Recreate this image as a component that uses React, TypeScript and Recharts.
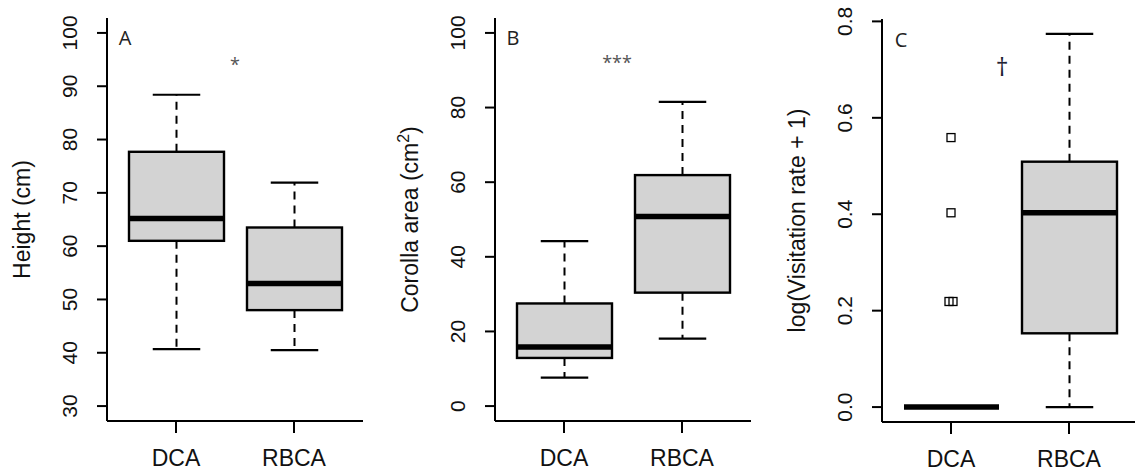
import React from 'react';
import { ComposedChart, Bar, Scatter, XAxis, YAxis } from 'recharts';

const categories = ['DCA', 'RBCA'];

// Panel A: Height (cm)
const heightLow = [40.7, 40.5];
const heightQ1 = [61.0, 48.0];
const heightMedian = [65.2, 53.0];
const heightQ3 = [77.7, 63.5];
const heightHigh = [88.4, 71.9];
const heightTicks = [30, 40, 50, 60, 70, 80, 90, 100];
const heightLimits = [30, 100];

// Panel B: Corolla area (cm2)
const corollaLow = [7.6, 18.1];
const corollaQ1 = [12.9, 30.4];
const corollaMedian = [15.8, 50.8];
const corollaQ3 = [27.5, 61.9];
const corollaHigh = [44.2, 81.5];
const corollaTicks = [0, 20, 40, 60, 80, 100];
const corollaLimits = [0, 100];

// Panel C: log(Visitation rate + 1)
const visitLow = [0, 0];
const visitQ1 = [0, 0.153];
const visitMedian = [0, 0.403];
const visitQ3 = [0, 0.509];
const visitHigh = [0, 0.774];
const visitOutliersDCA = [0.559, 0.403, 0.219, 0.219];
const visitTicks = [0, 0.2, 0.4, 0.6, 0.8];
const visitLimits = [0, 0.774];

const FONT = '"Liberation Sans", Arial, sans-serif';

const pad = (lim: number[]) => {
  const d = (lim[1] - lim[0]) * 0.04;
  return [lim[0] - d, lim[1] + d];
};

const buildRows = (lo: number[], q1: number[], med: number[], q3: number[], hi: number[]) =>
  categories.map((c, i) => ({ group: c, lo: lo[i], q1: q1[i], med: med[i], q3: q3[i], hi: hi[i] }));

const buildOutliers = (group: string, vals: number[]) =>
  vals.map((v, i) => {
    const n = vals.filter((w) => w === v).length;
    const k = vals.slice(0, i).filter((w) => w === v).length;
    return { group, v, k, n };
  });

const BoxShape = (props: any) => {
  const { x, y, width, height, payload } = props;
  if (payload == null || x == null) return null;
  const span = payload.hi - payload.lo;
  const yOf = (v: number) => (span === 0 ? y : y + (height * (payload.hi - v)) / span);
  const cx = x + width / 2;
  const capHalf = width / 4;
  const yHi = yOf(payload.hi);
  const yQ3 = yOf(payload.q3);
  const yMed = yOf(payload.med);
  const yQ1 = yOf(payload.q1);
  const yLo = yOf(payload.lo);
  return (
    <g>
      <line x1={cx} x2={cx} y1={yQ3} y2={yHi} stroke="#000" strokeWidth={2} strokeDasharray="8 6" />
      <line x1={cx} x2={cx} y1={yQ1} y2={yLo} stroke="#000" strokeWidth={2} strokeDasharray="8 6" />
      <line x1={cx - capHalf} x2={cx + capHalf} y1={yHi} y2={yHi} stroke="#000" strokeWidth={2.2} />
      <line x1={cx - capHalf} x2={cx + capHalf} y1={yLo} y2={yLo} stroke="#000" strokeWidth={2.2} />
      <rect x={x} y={yQ3} width={width} height={Math.max(0, yQ1 - yQ3)} fill="#d3d3d3" stroke="#000" strokeWidth={2.4} />
      <line x1={x} x2={x + width} y1={yMed} y2={yMed} stroke="#000" strokeWidth={5.5} />
    </g>
  );
};

const OutlierShape = (props: any) => {
  const { cx, cy, payload } = props;
  if (cx == null || cy == null) return null;
  const dx = (payload.k - (payload.n - 1) / 2) * 4;
  return <rect x={cx + dx - 4} y={cy - 4} width={8} height={8} fill="none" stroke="#000" strokeWidth={1.3} />;
};

const XTick = (props: any) => {
  const { x, y, payload } = props;
  return (
    <text x={x} y={y} dy={32.5} textAnchor="middle" fontSize={23} fontFamily={FONT} fill="#111">
      {payload.value}
    </text>
  );
};

const makeYTick = (fmt: (v: number) => string) => (props: any) => {
  const { x, y, payload } = props;
  const bx = x - 20;
  return (
    <text
      x={bx}
      y={y}
      transform={`rotate(-90 ${bx} ${y})`}
      textAnchor="middle"
      fontSize={21}
      fontFamily={FONT}
      fill="#111"
    >
      {fmt(payload.value)}
    </text>
  );
};

const W = 380;
const H = 472;

function Panel(props: {
  left: number;
  top: number;
  rows: any[];
  outliers?: any[];
  domain: number[];
  ticks: number[];
  fmt: (v: number) => string;
}) {
  const { left, top, rows, outliers, domain, ticks, fmt } = props;
  const YTick = makeYTick(fmt);
  const lineStyle = { stroke: '#000', strokeWidth: 2 };
  return (
    <div style={{ position: 'absolute', left, top: 0, width: W, height: H }}>
      <ComposedChart
        width={W}
        height={H}
        data={rows}
        margin={{ top, right: 17, bottom: 472 - 40 - (top === 18 ? 421 : 422), left: 0 }}
        barCategoryGap={0}
      >
        <XAxis
          dataKey="group"
          type="category"
          allowDuplicatedCategory={false}
          padding={{ left: 10, right: 10 }}
          height={40}
          tickSize={12}
          tickMargin={0}
          interval={0}
          axisLine={lineStyle}
          tickLine={lineStyle}
          tick={<XTick />}
        />
        <XAxis
          xAxisId="top"
          dataKey="group"
          type="category"
          allowDuplicatedCategory={false}
          orientation="top"
          height={0}
          tick={false}
          tickLine={false}
          axisLine={lineStyle}
        />
        <YAxis
          type="number"
          domain={domain}
          ticks={ticks}
          allowDataOverflow
          width={107}
          tickSize={10}
          tickMargin={0}
          interval={0}
          axisLine={lineStyle}
          tickLine={lineStyle}
          tick={<YTick />}
        />
        <YAxis
          yAxisId="right"
          orientation="right"
          type="number"
          domain={domain}
          allowDataOverflow
          width={0}
          tick={false}
          tickLine={false}
          axisLine={lineStyle}
        />
        <Bar
          dataKey={(r: any) => [r.lo, r.hi]}
          barSize={95}
          shape={<BoxShape />}
          isAnimationActive={false}
        />
        {outliers ? (
          <Scatter data={outliers} dataKey="v" shape={<OutlierShape />} isAnimationActive={false} />
        ) : null}
      </ComposedChart>
    </div>
  );
}

const heightRows = buildRows(heightLow, heightQ1, heightMedian, heightQ3, heightHigh);
const corollaRows = buildRows(corollaLow, corollaQ1, corollaMedian, corollaQ3, corollaHigh);
const visitRows = buildRows(visitLow, visitQ1, visitMedian, visitQ3, visitHigh);
const visitOutliers = buildOutliers('DCA', visitOutliersDCA);

export default function App() {
  const titleStyle = { fontSize: 23, fontFamily: FONT, fill: '#111' } as any;
  const letterStyle = { fontSize: 20, fontFamily: '"Open Sans", "Noto Sans", sans-serif', fill: '#222' } as any;
  const sigStyle = { fontSize: 18, fontFamily: '"Open Sans", "Noto Sans", sans-serif', fill: '#555' } as any;
  return (
    <div
      style={{
        position: 'absolute',
        left: 0,
        top: 0,
        width: 1135,
        height: 472,
        overflow: 'hidden',
        background: '#fff',
      }}
    >
      <Panel left={0} top={18} rows={heightRows} domain={pad(heightLimits)} ticks={heightTicks} fmt={(v) => String(v)} />
      <Panel left={388} top={18} rows={corollaRows} domain={pad(corollaLimits)} ticks={corollaTicks} fmt={(v) => String(v)} />
      <Panel
        left={775}
        top={19}
        rows={visitRows}
        outliers={visitOutliers}
        domain={pad(visitLimits)}
        ticks={visitTicks}
        fmt={(v) => v.toFixed(1)}
      />
      <svg width={1135} height={472} style={{ position: 'absolute', left: 0, top: 0, pointerEvents: 'none' }}>
        <text x={30} y={219.5} transform="rotate(-90 30 219.5)" textAnchor="middle" style={titleStyle}>
          Height (cm)
        </text>
        <text x={418} y={219.5} transform="rotate(-90 418 219.5)" textAnchor="middle" style={titleStyle}>
          Corolla area (cm
          <tspan dy={-9} fontSize={16}>2</tspan>
          <tspan dy={9}>)</tspan>
        </text>
        <text x={805} y={220.5} transform="rotate(-90 805 220.5)" textAnchor="middle" style={titleStyle}>
          log(Visitation rate + 1)
        </text>

        <text x={125} y={45} textAnchor="middle" style={letterStyle}>A</text>
        <text x={513} y={45} textAnchor="middle" style={letterStyle}>B</text>
        <text x={901} y={47} textAnchor="middle" style={letterStyle}>C</text>

        <text x={235} y={71} textAnchor="middle" style={sigStyle}>*</text>
        <text x={617} y={69} textAnchor="middle" style={sigStyle}>***</text>
        <text x={1002} y={76} textAnchor="middle" style={{ ...sigStyle, fontSize: 25, fill: '#223' }}>†</text>
      </svg>
    </div>
  );
}
